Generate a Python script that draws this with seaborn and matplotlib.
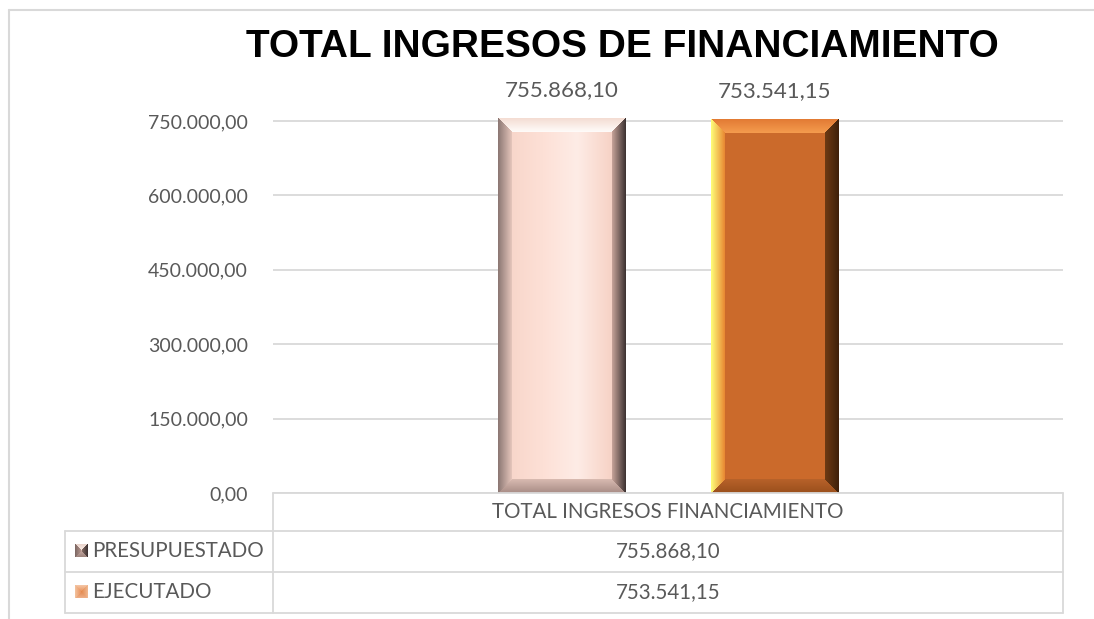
import numpy as np
import pandas as pd
import matplotlib
matplotlib.use("Agg")
import matplotlib.pyplot as plt
from matplotlib.lines import Line2D
from matplotlib.ticker import FuncFormatter
import seaborn as sns

# ---------------- data ----------------
title = "TOTAL INGRESOS DE FINANCIAMIENTO"
categories = ["TOTAL INGRESOS FINANCIAMIENTO"]
series = ["PRESUPUESTADO", "EJECUTADO"]
presupuestado = [755868.10]
ejecutado = [753541.15]
yticks = [0, 150000, 300000, 450000, 600000, 750000]

df = pd.DataFrame({
    "categoria": categories * 2,
    "serie": [series[0]] * len(categories) + [series[1]] * len(categories),
    "valor": presupuestado + ejecutado,
})

W, H = 1094, 619
GRAY = "#595959"
LINE = "#d9d9d9"
FONT = ["Lato", "DejaVu Sans"]


def fmt_es(v):
    s = f"{v:,.2f}"
    return s.replace(",", "X").replace(".", ",").replace("X", ".")


def fx(x):
    return x / W


def fy(y):
    return 1 - y / H


def hexrgb(h):
    h = h.lstrip("#")
    return np.array([int(h[i:i + 2], 16) / 255 for i in (0, 2, 4)])


def front_grad(stops, n):
    pos = np.array([p for p, _ in stops])
    cols = np.array([hexrgb(c) for _, c in stops])
    u = (np.arange(n) + 0.5) / n
    return np.stack([np.interp(u, pos, cols[:, k]) for k in range(3)], axis=1)


def bevel_img(w, h, b, front, faces):
    img = np.zeros((h, w, 3))
    frow = front_grad(front, w)
    jj, ii = np.meshgrid(np.arange(w) + 0.5, np.arange(h) + 0.5)
    d = np.stack([jj, w - jj, ii, h - ii])  # left, right, top, bottom
    m = d.min(axis=0)
    arg = d.argmin(axis=0)
    img[:] = frow[None, :, :]
    names = ["left", "right", "top", "bottom"]
    for k, nm in enumerate(names):
        outer, inner = faces[nm]
        o, n_ = hexrgb(outer), hexrgb(inner)
        mask = (m < b) & (arg == k)
        t = np.clip(m / b, 0, 1)[..., None]
        col = o * (1 - t) + n_ * t
        img[mask] = col[mask]
    return img


styles = {
    "PRESUPUESTADO": dict(
        base="#fde2d8",
        front=[(0.0, "#f6d2c6"), (0.35, "#fde0d6"), (0.62, "#feece6"), (0.85, "#f8d6ca"), (1.0, "#efc4b6")],
        faces={"left": ("#8a7672", "#e6c6bc"), "right": ("#3a3030", "#c8a49a"),
               "top": ("#f4dcd2", "#fffcfa"), "bottom": ("#a88c86", "#d9bbb1")},
    ),
    "EJECUTADO": dict(
        base="#cb6a2b",
        front=[(0.0, "#cc6a2c"), (1.0, "#cb6a2b")],
        faces={"left": ("#ffff7a", "#e88632"), "right": ("#3e200a", "#6e3a14"),
               "top": ("#e27a34", "#f59c4e"), "bottom": ("#9a4f1c", "#b8622a")},
    ),
}

# ---------------- figure ----------------
sns.set_theme(style="white")
plt.rcParams["font.family"] = FONT

fig = plt.figure(figsize=(W / 100, H / 100), dpi=100)
fig.patch.set_facecolor("white")

ymax = 782000
ax_top_px = 493 - ymax / 150000 * 74.4
ax = fig.add_axes([fx(273), fy(493), fx(1063) - fx(273), (493 - ax_top_px) / H])

palette = {s: styles[s]["base"] for s in series}
sns.barplot(data=df, x="categoria", y="valor", hue="serie", hue_order=series,
            palette=palette, width=0.539, gap=0.4, legend=False, ax=ax,
            saturation=1, edgecolor="none", zorder=2)

ax.set_xlim(-0.5, 0.5)
ax.set_ylim(0, ymax)
ax.set_yticks(yticks)
ax.yaxis.set_major_formatter(FuncFormatter(lambda v, p: fmt_es(v)))
ax.tick_params(axis="y", length=0, pad=18, labelsize=14, labelcolor=GRAY)
ax.set_xticks([])
ax.set_xlabel("")
ax.set_ylabel("")
for sp in ax.spines.values():
    sp.set_visible(False)
ax.grid(axis="y", color=LINE, linewidth=1.3, zorder=0)
ax.set_axisbelow(True)
ax.set_facecolor("none")

# bar labels
for cont, s in zip(ax.containers, series):
    vals = df.loc[df["serie"] == s, "valor"].tolist()
    ax.bar_label(cont, labels=[fmt_es(v) for v in vals], padding=13,
                 fontsize=16, color=GRAY, family=FONT)

# bevel overlays derived from the bars
fig.canvas.draw()
for cont, s in zip(ax.containers, series):
    st = styles[s]
    for p in cont.patches:
        bb = p.get_window_extent()
        wpx, hpx = max(int(round(bb.width)), 2), max(int(round(bb.height)), 2)
        img = bevel_img(wpx, hpx, 14, st["front"], st["faces"])
        x0 = p.get_x()
        ax.imshow(img, extent=[x0, x0 + p.get_width(), p.get_y(), p.get_y() + p.get_height()],
                  aspect="auto", zorder=3, interpolation="nearest")
ax.set_xlim(-0.5, 0.5)
ax.set_ylim(0, ymax)

# ---------------- title ----------------
fig.text(fx(622), fy(47), title, ha="center", va="center", fontsize=28,
         fontweight="bold", color="black", family=["Liberation Sans", "DejaVu Sans"])

# ---------------- chart border ----------------
for (x1, y1, x2, y2) in [(9, 10, W, 10), (9, 10, 9, H)]:
    fig.add_artist(Line2D([fx(x1), fx(x2)], [fy(y1), fy(y2)], color="#d9d9d9",
                          linewidth=1.5, transform=fig.transFigure))

# ---------------- data table ----------------
tbl_lines = [
    (273, 493, 1063, 493), (65, 531, 1063, 531), (65, 572, 1063, 572), (65, 613, 1063, 613),
    (273, 493, 273, 613), (65, 531, 65, 613), (1063, 493, 1063, 613),
]
for (x1, y1, x2, y2) in tbl_lines:
    fig.add_artist(Line2D([fx(x1), fx(x2)], [fy(y1), fy(y2)], color=LINE,
                          linewidth=1.3, transform=fig.transFigure))

fig.text(fx(668), fy(512), categories[0], ha="center", va="center", fontsize=14.8,
         color=GRAY, family=FONT)
rows_y = [551, 592]
row_vals = [presupuestado, ejecutado]
for s, yv, vals in zip(series, rows_y, row_vals):
    fig.text(fx(92), fy(yv), s, ha="left", va="center", fontsize=14.8, color=GRAY, family=FONT)
    fig.text(fx(668), fy(yv), fmt_es(vals[0]), ha="center", va="center", fontsize=14.8,
             color=GRAY, family=FONT)

# legend keys
key_styles = {
    "PRESUPUESTADO": dict(front=[(0, "#c9aca4"), (1, "#c9aca4")],
                          faces={"left": ("#7a6662", "#b89890"), "right": ("#3a3030", "#8a7068"),
                                 "top": ("#e8d2ca", "#fbeee8"), "bottom": ("#9c827c", "#c8aaa2")}),
    "EJECUTADO": dict(front=[(0, "#e58a4c"), (1, "#e58a4c")],
                      faces={"left": ("#f3c3a0", "#e8905a"), "right": ("#f0b890", "#e48a50"),
                             "top": ("#f5c8a8", "#e8925a"), "bottom": ("#eeb088", "#e28850")}),
}
for s, yv in zip(series, rows_y):
    ks = key_styles[s]
    kimg = bevel_img(13, 13, 6.5, ks["front"], ks["faces"])
    fig.figimage(kimg, xo=75, yo=H - yv - 6, origin="upper", zorder=5)

fig.savefig("out.png", dpi=100, facecolor="white")
